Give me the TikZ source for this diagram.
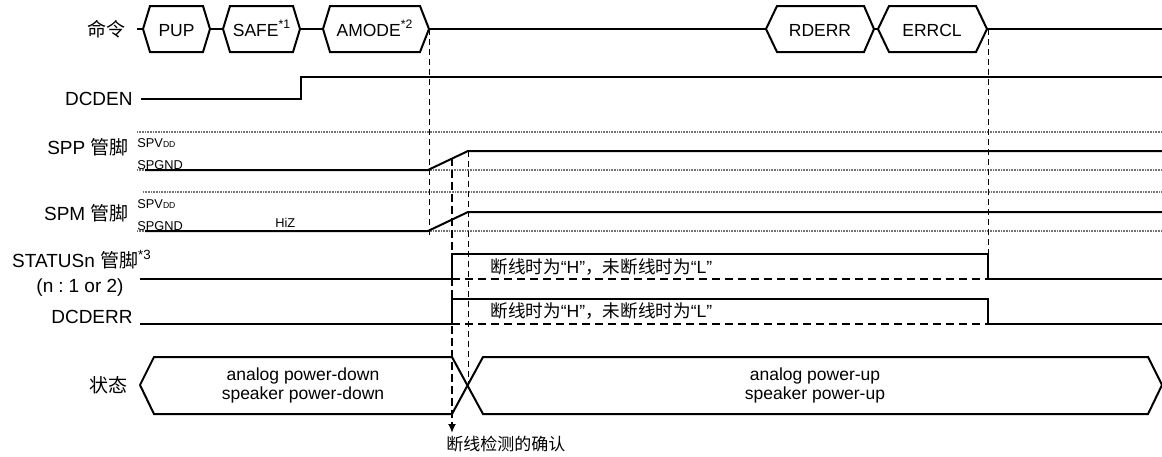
\documentclass[tikz,border=0pt]{standalone}
\usepackage{fontspec}
\setmainfont{Liberation Sans}
\newfontfamily\cjk{Noto Sans CJK SC}
\usepackage{tikz}
\usetikzlibrary{arrows.meta}

\tikzset{
  sigline/.style={line width=1pt},
  levelline/.style={black!55, line width=0.8pt, dash pattern=on 0.4pt off 0.4pt},
  guideline/.style={line width=0.5pt, dash pattern=on 3pt off 2pt},
  checkline/.style={line width=1.3pt, dash pattern=on 4pt off 2pt},
  lowdash/.style={line width=0.9pt, dash pattern=on 4pt off 2.5pt},
  lbl/.style={inner sep=0pt, font=\fontsize{9.5}{11}\selectfont},
  hextext/.style={inner sep=0pt, font=\fontsize{8.75}{9.5}\selectfont},
  pinlvl/.style={inner sep=0pt, anchor=base west, font=\fontsize{6.4}{7}\selectfont},
  note/.style={inner sep=0pt, anchor=base west, font=\fontsize{8.8}{9}\selectfont},
}
\newcommand{\vddsub}{{\fontsize{4.3}{4.3}\selectfont DD}}

\begin{document}
\begin{tikzpicture}[x=0.5pt, y=-0.5pt]
\useasboundingbox (0,0) rectangle (1162,456);
% -- command row --
\node[lbl, anchor=base east] (cmdlbl) at (126,36) {\cjk 命令};
\draw[sigline] (137,29) -- (143,29);
\draw[sigline] (143,29) -- (150,6) -- (203,6) -- (210,29) -- (203,52) -- (150,52) -- cycle;
\draw[sigline] (210,29) -- (223,29);
\draw[sigline] (223,29) -- (230,6) -- (293,6) -- (300,29) -- (293,52) -- (230,52) -- cycle;
\draw[sigline] (300,29) -- (323,29);
\draw[sigline] (323,29) -- (330,6) -- (420,6) -- (429,29) -- (420,52) -- (330,52) -- cycle;
\draw[sigline] (429,29) -- (766,29);
\draw[sigline] (766,29) -- (777,6) -- (864,6) -- (874,29) -- (864,52) -- (777,52) -- cycle;
\draw[sigline] (874,29) -- (878,29);
\draw[sigline] (878,29) -- (889,6) -- (976,6) -- (987,29) -- (976,52) -- (889,52) -- cycle;
\draw[sigline] (987,29) -- (1162,29);
\node[hextext, anchor=base] (pup) at (176.5,36.5) {PUP};
\node[hextext, anchor=base] (safe) at (262,36.5) {SAFE\textsuperscript{*1}};
\node[hextext, anchor=base] (amode) at (375,36.5) {AMODE\textsuperscript{*2}};
\node[hextext, anchor=base] (rderr) at (820,36.5) {RDERR};
\node[hextext, anchor=base] (errcl) at (932,36.5) {ERRCL};
% -- DCDEN --
\node[lbl, anchor=base east] (dcdenlbl) at (133,105) {DCDEN};
\draw[sigline] (141,99) -- (301,99) -- (301,77) -- (1162,77);
% -- SPP / SPM pins --
\node[lbl, anchor=base east] (spplbl) at (129,154) {SPP {\cjk 管脚}};
\node[lbl, anchor=base east] (spmlbl) at (129,220) {SPM {\cjk 管脚}};
\draw[levelline] (137,132) -- (1162,132);
\draw[levelline] (137,170) -- (1162,170);
\draw[levelline] (143,192) -- (1162,192);
\draw[levelline] (137,231) -- (1162,231);
\node[pinlvl] (sppvdd) at (137,147) {SPV\vddsub};
\node[pinlvl] (sppgnd) at (137,169) {SPGND};
\node[pinlvl] (spmvdd) at (137,208) {SPV\vddsub};
\node[pinlvl] (spmgnd) at (137,230) {SPGND};
\node[pinlvl] (hiz) at (275,227) {HiZ};
\draw[sigline] (145,170) -- (428,170) -- (468,151) -- (1162,151);
\draw[sigline] (145,231) -- (428,231) -- (468,212) -- (1162,212);
% -- STATUSn / DCDERR --
\node[lbl, anchor=base] (statuslbl) at (82,267) {STATUSn {\cjk 管脚}\textsuperscript{*3}};
\node[lbl, anchor=base] (statussub) at (80,292) {(n\hspace{2.5pt}:\hspace{2.5pt}1 or 2)};
\node[lbl, anchor=base east] (dcderrlbl) at (133,323.5) {DCDERR};
\draw[sigline] (140,279) -- (452,279) -- (452,254) -- (988,254) -- (988,279) -- (1162,279);
\draw[lowdash] (452,279) -- (988,279);
\draw[sigline] (140,324) -- (452,324) -- (452,299) -- (988,299) -- (988,324) -- (1162,324);
\draw[lowdash] (452,324) -- (988,324);
\node[note] (statusnote) at (490,273) {{\cjk 断线时为}“H”{\cjk ，未断线时为}“L”};
\node[note] (dcderrnote) at (490,317) {{\cjk 断线时为}“H”{\cjk ，未断线时为}“L”};
% -- state --
\node[lbl, anchor=base east] (statelbl) at (128,392) {\cjk 状态};
\draw[sigline] (140,385) -- (154,357) -- (452,357) -- (483,414) -- (1148,414) -- (1162,385);
\draw[sigline] (140,385) -- (154,414) -- (452,414) -- (483,357) -- (1148,357) -- (1162,385);
\node[hextext, align=center] (downtxt) at (303,385.5) {analog power-down\\speaker power-down};
\node[hextext, align=center] (uptxt) at (815,385.5) {analog power-up\\speaker power-up};
% -- guides --
\coordinate (amodeend) at (429,29);
\coordinate (amodefoot) at (429,235);
\coordinate (rampend) at (468,151);
\coordinate (cross) at (468,385);
\coordinate (errclend) at (988,29);
\coordinate (errclfoot) at (988,254);
\coordinate (chktop) at (452,158);
\coordinate (chkend) at (452,433);
\draw[guideline] (amodeend) -- (amodefoot);
\draw[guideline] (rampend) -- (cross);
\draw[guideline] (errclend) -- (errclfoot);
\draw[checkline, -{Latex[length=4.5pt,width=4pt]}] (chktop) -- (chkend);
\node[note, font=\fontsize{8.5}{9}\selectfont] (chknote) at (446,450) {\cjk 断线检测的确认};
\end{tikzpicture}
\end{document}
